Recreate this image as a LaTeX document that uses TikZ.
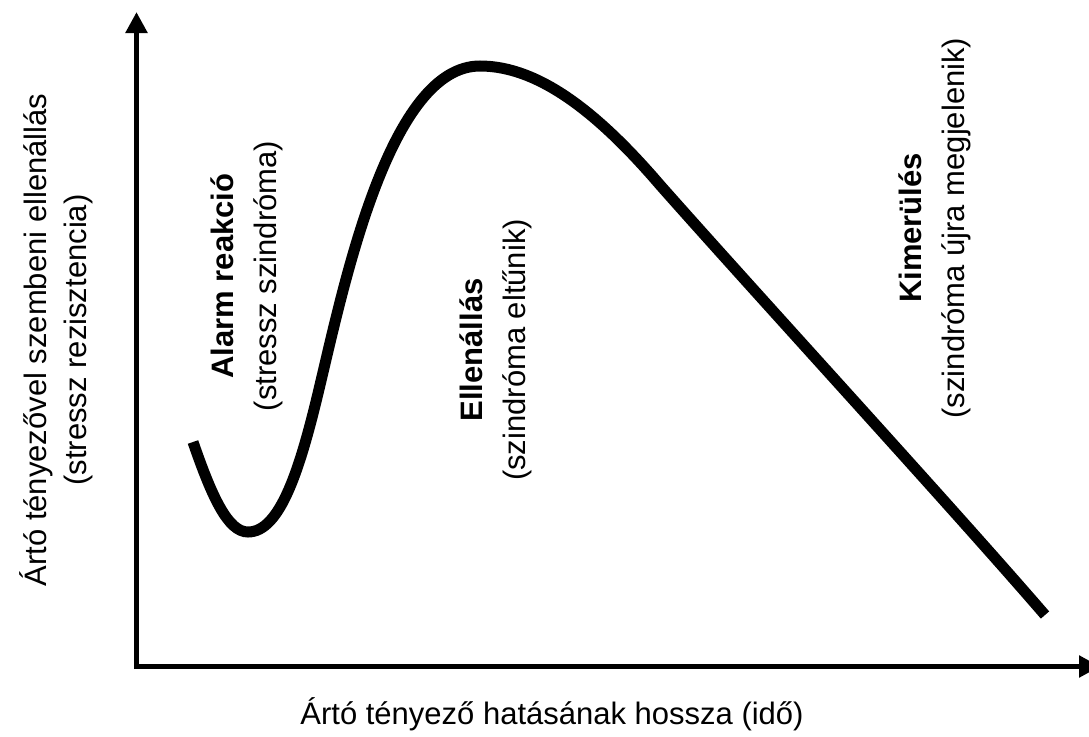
\documentclass[tikz,border=0pt]{standalone}
\usepackage{fontspec}
\setmainfont{Liberation Sans}
\usetikzlibrary{arrows.meta}

\begin{document}
\begin{tikzpicture}[x=1pt, y=-1pt,
    axis/.style={line width=5.5pt, -{Triangle[length=21pt, width=21pt]}},
    phase/.style={rotate=90, align=center, font=\fontsize{31}{43}\selectfont},
    axislabel/.style={align=center, font=\fontsize{31}{40}\selectfont}]
  \useasboundingbox (0,0) rectangle (1089,736);

  % axes
  \coordinate (ybase) at (136.5,669);
  \coordinate (ytip) at (136.5,12);
  \coordinate (xbase) at (134,666.5);
  \coordinate (xtip) at (1100,666.5);
  \draw[axis] (ybase) -- (ytip);
  \draw[axis] (xbase) -- (xtip);

  % resistance curve
  \coordinate (start) at (193,442);
  \coordinate (low) at (248,532);
  \coordinate (rise) at (320,385);
  \coordinate (peak) at (480,66);
  \coordinate (fall) at (660,185);
  \coordinate (finish) at (1045,615);
  \draw[line width=11pt]
    (start) .. controls (212,497) and (228,532) .. (low)
            .. controls (280,532) and (300,470) .. (rise)
            .. controls (345,280) and (390,66) .. (peak)
            .. controls (540,66) and (600,115) .. (fall)
            .. controls (760,298) and (950,505) .. (finish);

  % phases
  \node[phase] (alarm) at (246.5,276) {\textbf{Alarm reakció}\\(stressz szindróma)};
  \node[phase] (resist) at (495.5,350) {\textbf{Ellenállás}\\(szindróma eltűnik)};
  \node[phase] (exhaust) at (935,228) {\textbf{Kimerülés}\\(szindróma újra megjelenik)};

  % axis labels
  \node[axislabel, rotate=90] (ylabel) at (56,340) {Ártó tényezővel szembeni ellenállás\\(stressz rezisztencia)};
  \node[axislabel] (xlabel) at (552,714) {Ártó tényező hatásának hossza (idő)};
\end{tikzpicture}
\end{document}
